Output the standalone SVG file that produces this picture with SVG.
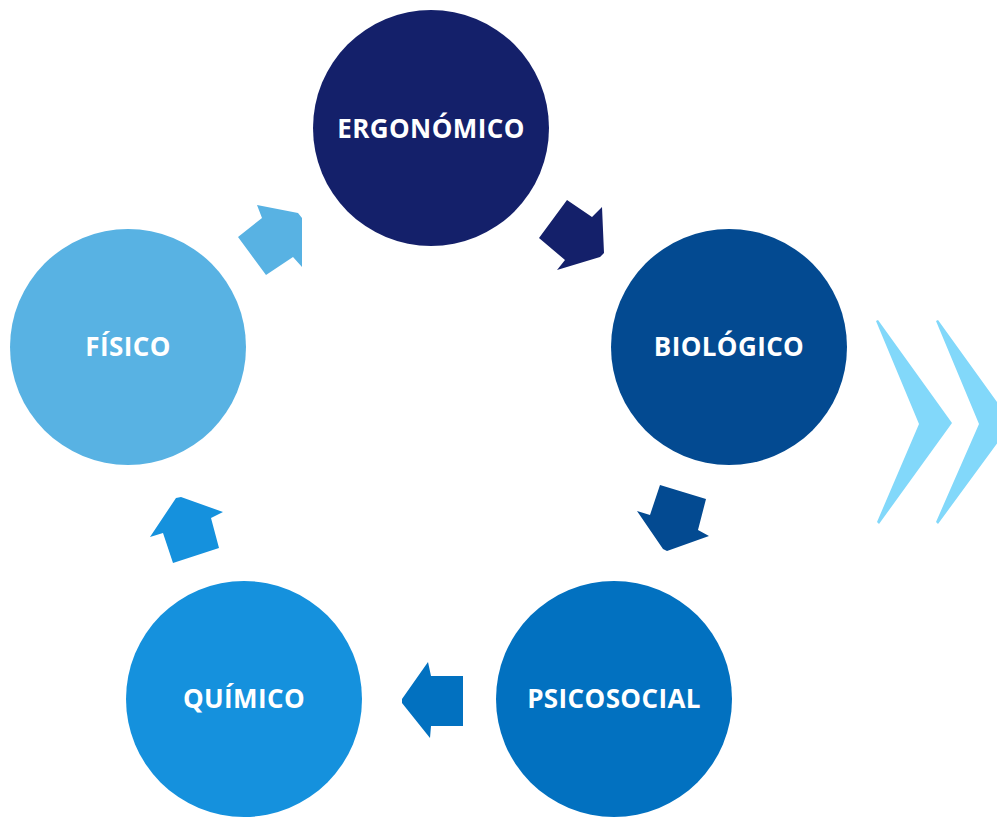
<svg xmlns="http://www.w3.org/2000/svg" width="997" height="818" viewBox="0 0 997 818">
<style>
.lbl{font-family:"Open Sans","Noto Sans","Liberation Sans",sans-serif;font-weight:700;font-size:26px;letter-spacing:0.4px;fill:#fff;text-anchor:middle}
</style>
<rect width="997" height="818" fill="#fff"/>
<g id="connectors">
<polygon points="539,238 567,200 592,217 602,207 604,253 600,257 557,270 565,260" fill="#14206A"/>
<polygon points="660,485 706,499 698,530 709,536 667,551 663,549 637,511 650,515" fill="#034A91"/>
<polygon points="463,676 463,726 431,726 430,738 402,703 402,699 428,662 431,676" fill="#0271C0"/>
<polygon points="173,563 219,548 211,518 223,512 181,497 176,498 150,537 163,533" fill="#1591DD"/>
<polygon points="266,275 238,237 262,218 257,205 298,213 302,218 302,267 293,257" fill="#58B2E3"/>
</g>
<g id="ergonomico"><circle cx="431" cy="128" r="118" fill="#14206A"/><text class="lbl" x="431" y="138">ERGONÓMICO</text></g>
<g id="biologico"><circle cx="729" cy="347" r="118" fill="#034A91"/><text class="lbl" x="729" y="356">BIOLÓGICO</text></g>
<g id="psicosocial"><circle cx="614" cy="699" r="118" fill="#0271C0"/><text class="lbl" x="614" y="708">PSICOSOCIAL</text></g>
<g id="quimico"><circle cx="244" cy="699" r="118" fill="#1591DD"/><text class="lbl" x="244" y="708">QUÍMICO</text></g>
<g id="fisico"><circle cx="128" cy="347" r="118" fill="#58B2E3"/><text class="lbl" x="128" y="356">FÍSICO</text></g>
<g id="chevrons" fill="#82D8FA">
<polygon points="876,321 878,320 952,423 879,524 877,522 919,424"/>
<polygon points="936,321 938,320 1012,423 938,524 936,522 979,424"/>
</g>
</svg>
